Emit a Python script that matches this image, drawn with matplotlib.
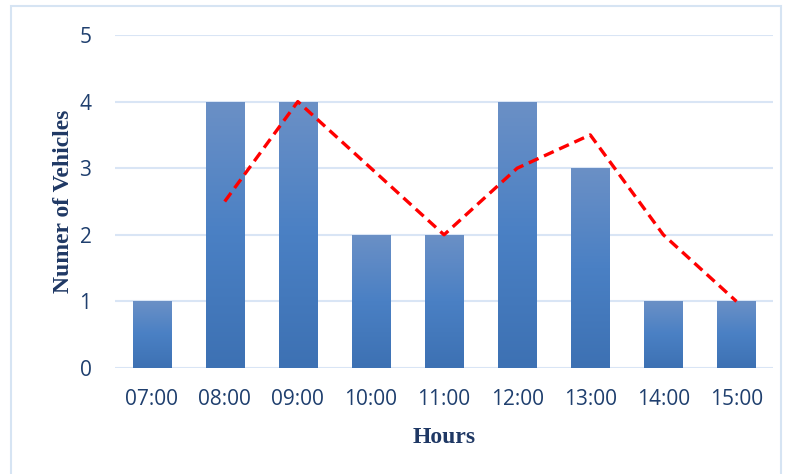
import numpy as np
import matplotlib
matplotlib.use('Agg')
from matplotlib import pyplot as plt
from matplotlib.patches import Rectangle

hours = ['07:00', '08:00', '09:00', '10:00', '11:00', '12:00', '13:00', '14:00', '15:00']
vehicles = [1, 4, 4, 2, 2, 4, 3, 1, 1]
# 2 period moving average, none for first hour
moving_avg = [np.nan, 2.5, 4, 3, 2, 3, 3.5, 2, 1]

fig = plt.figure(figsize=(7.88, 4.74), dpi=100)
ax = fig.add_axes([0.146, 0.2236, 0.835, 0.7026])

# outer frame of the chart
fig.patches.append(Rectangle((11/788, -0.05), 770/788, 1.05 - 6/474, transform=fig.transFigure,
                             fill=False, edgecolor='#D6E4F3', linewidth=1.5))

x = np.arange(len(hours))
bars = ax.bar(x, vehicles, width=0.52, color='#4A7EBF', zorder=2)

# vertical gradient in each bar, lighter on top
grad = np.linspace(0, 1, 256).reshape(-1, 1)
cmap = matplotlib.colors.LinearSegmentedColormap.from_list('g', ['#3D71B3', '#4A80C4', '#6B90C6'])
for b in bars:
    bx, by = b.get_x(), b.get_y()
    w, h = b.get_width(), b.get_height()
    img = ax.imshow(grad, extent=[bx, bx + w, 0, h], origin='lower', cmap=cmap,
                    aspect='auto', zorder=3)
    img.set_clip_path(b)

ax.plot(x, moving_avg, color='#FF0000', linestyle=(0, (3.2, 1.8)), linewidth=2.4, zorder=4)

ax.set_xlim(-0.5, len(hours) - 0.5)
ax.set_ylim(0, 5)
ax.set_yticks(range(6))
ax.set_xticks(x)
ax.set_xticklabels(hours)
ax.grid(axis='y', color='#D9E5F5', linewidth=1.5, zorder=0)
for s in ax.spines.values():
    s.set_visible(False)
ax.tick_params(length=0, labelsize=15, labelcolor='#1F3F6E', pad=15)
ax.tick_params(axis='y', pad=17)
for t in ax.get_xticklabels() + ax.get_yticklabels():
    t.set_family('Open Sans')

ax.set_xlabel('Hours', family='Liberation Serif', fontweight='bold', fontsize=17,
              color='#1F3864', labelpad=12)
ax.set_ylabel('Numer of Vehicles', family='Liberation Serif', fontweight='bold', fontsize=17,
              color='#1F3864', labelpad=4)

fig.savefig('out.png', dpi=100)
